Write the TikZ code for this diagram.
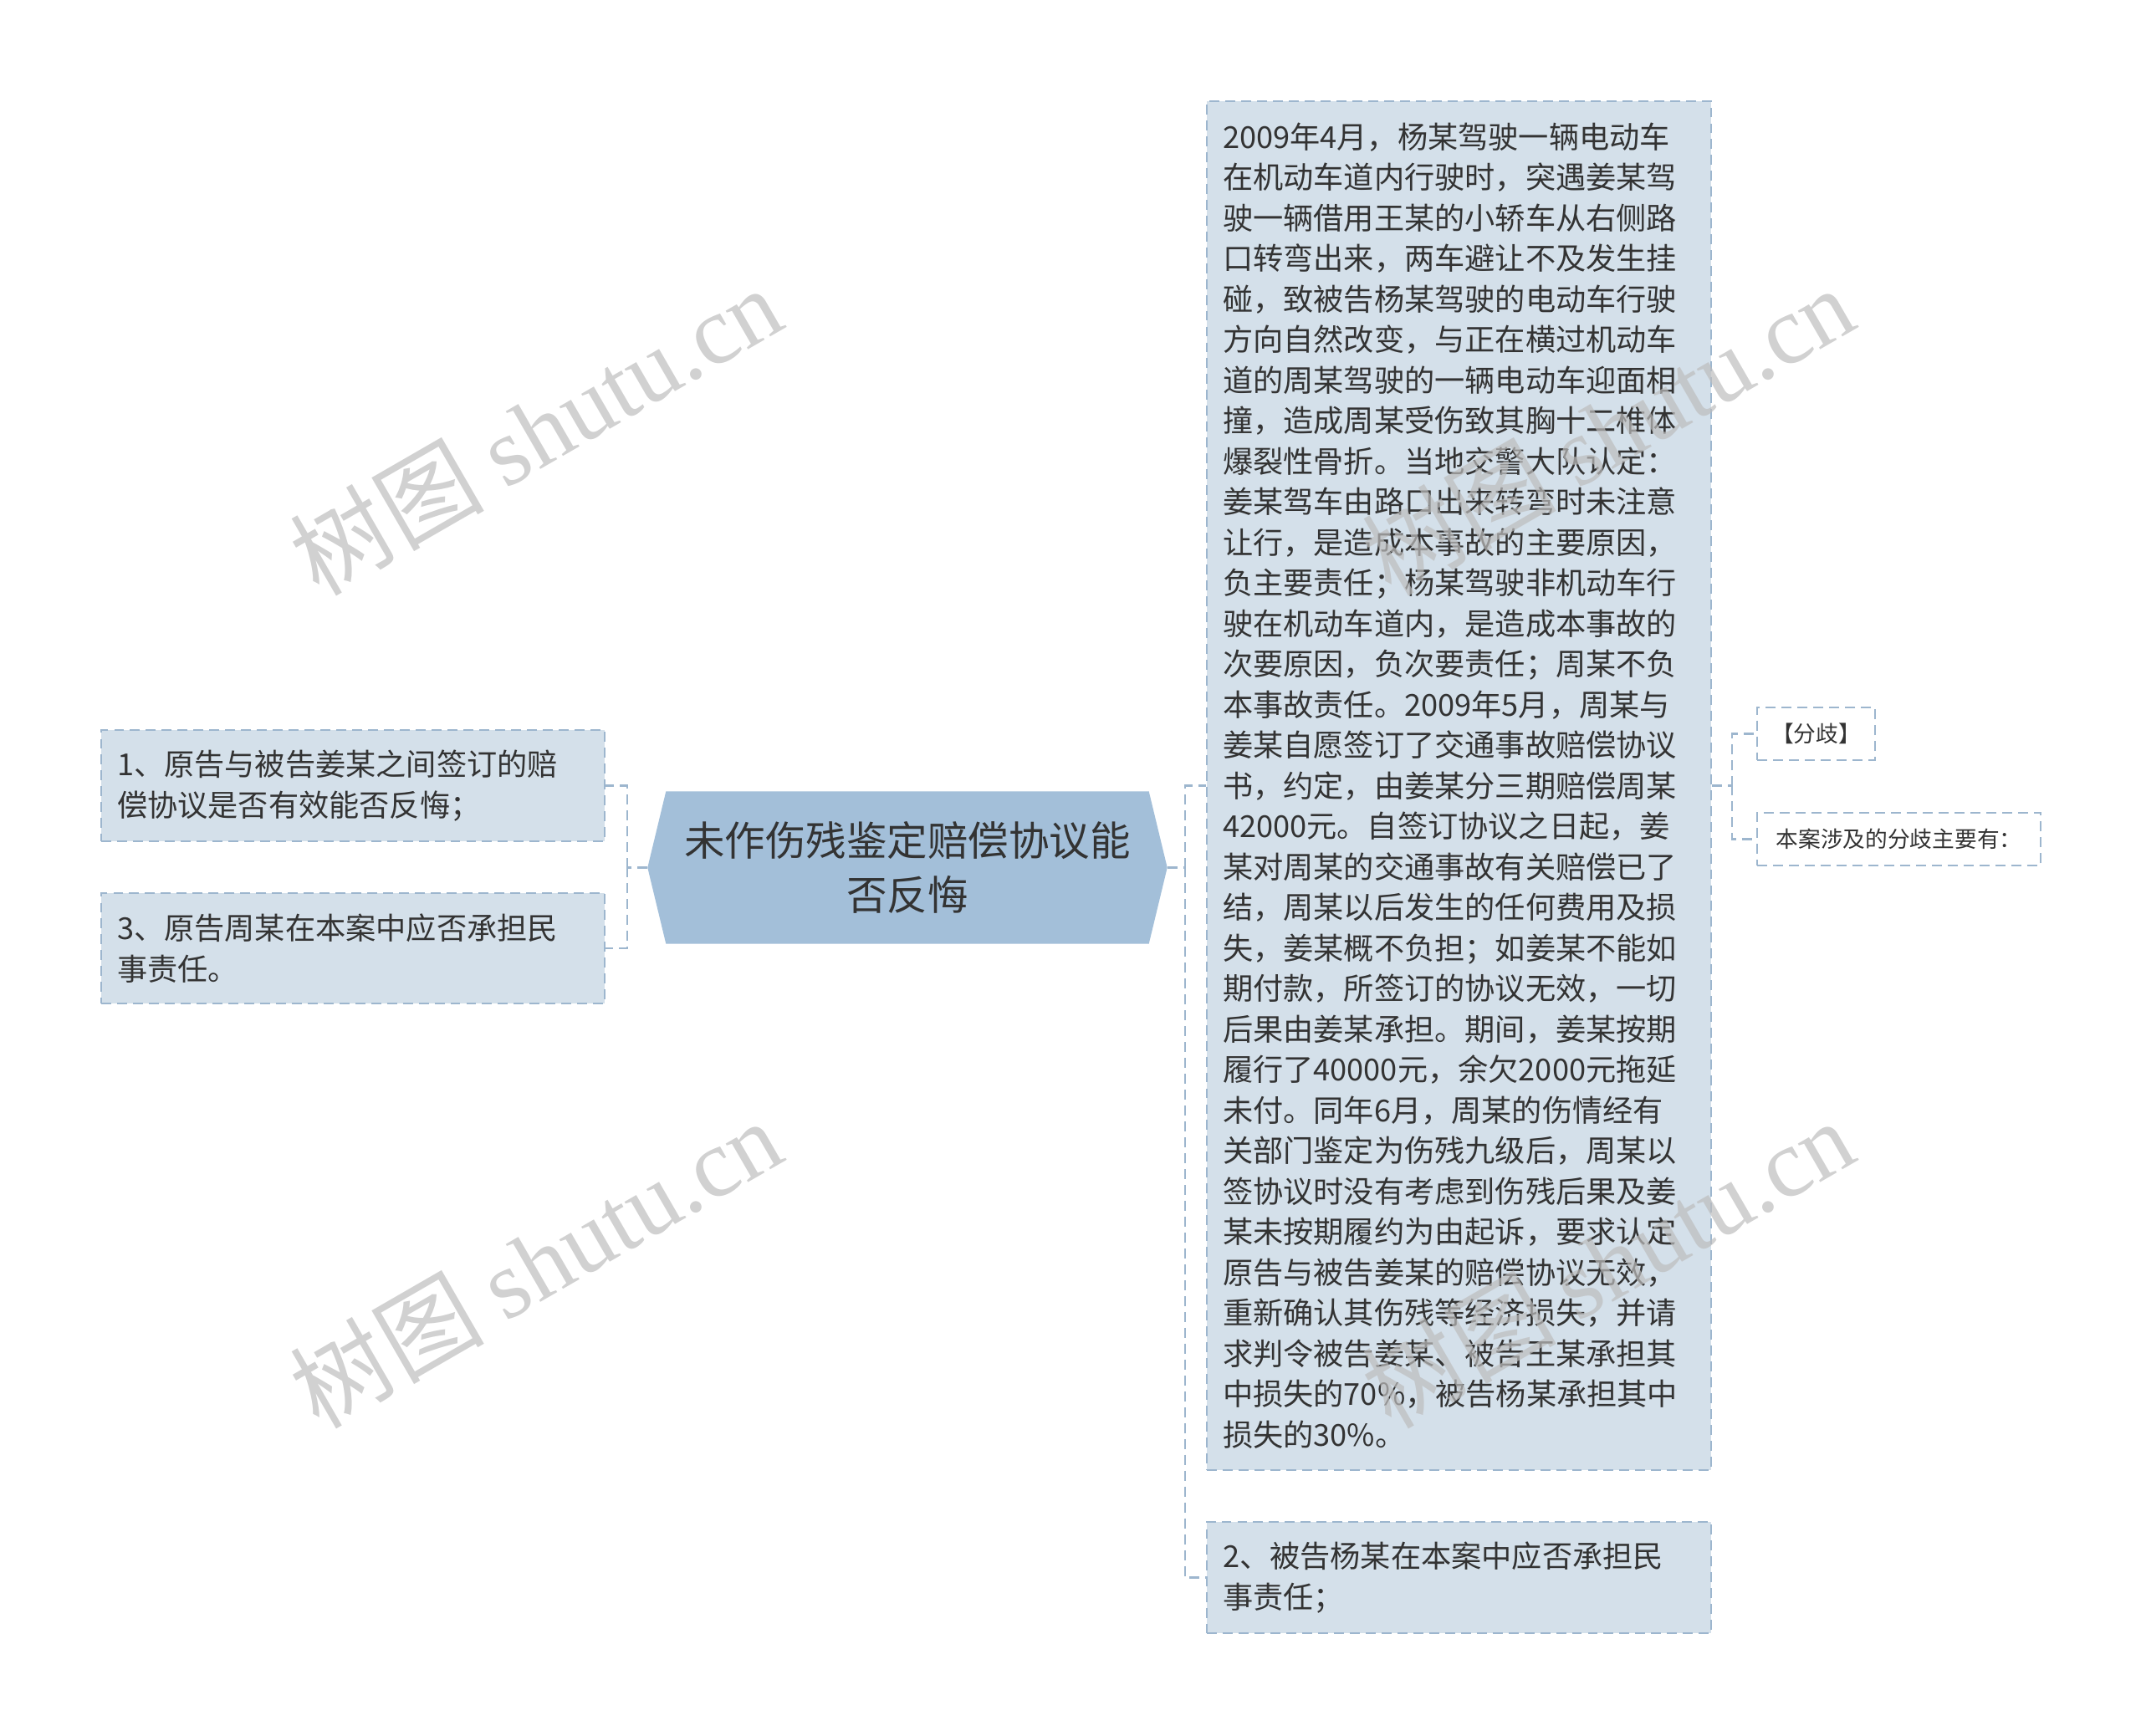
\documentclass[tikz,border=0pt]{standalone}
\usepackage{fontspec}
\setmainfont{Noto Sans CJK SC}
\newfontfamily\wmlatin{Liberation Serif}
\usetikzlibrary{positioning,calc,backgrounds}
\definecolor{hubblue}{HTML}{A3BFD9}
\definecolor{leafblue}{HTML}{D4E0EA}
\definecolor{edgeblue}{HTML}{9DB6CE}
\definecolor{inkgray}{HTML}{333333}
\definecolor{wmgray}{HTML}{BDBDBD}
\tikzset{
  linkline/.style={draw=edgeblue, line width=0.6pt, dash pattern=on 3.4pt off 2pt},
  hubnode/.style={minimum width=5.76cm, minimum height=1.81cm, inner sep=0pt, align=center, text=inkgray, font=\fontsize{13.8pt}{18.5pt}\selectfont},
  leafbox/.style={draw=edgeblue, line width=0.6pt, dash pattern=on 3.4pt off 2pt, fill=leafblue, text=inkgray, align=left, inner xsep=0.19cm, font=\fontsize{10.3pt}{13.8pt}\selectfont},
  tagbox/.style={draw=edgeblue, line width=0.6pt, dash pattern=on 3.4pt off 2pt, fill=white, text=inkgray, minimum height=0.63cm, inner xsep=0.17cm, font=\fontsize{7.6pt}{9pt}\selectfont},
  wmark/.style={text=wmgray, opacity=0.7, rotate=30, font=\fontsize{33pt}{36pt}\selectfont}
}
\begin{document}
\begin{tikzpicture}
\useasboundingbox (0,0) rectangle (25.6,-20.75);
% centre topic
\node[hubnode] (hub) at (10.85,-10.375) {未作伤残鉴定赔偿协议能\\否反悔};
\coordinate (hubL) at ($(hub.west)+(-0.22,0)$);
\coordinate (hubR) at ($(hub.east)+(0.22,0)$);
\begin{scope}[on background layer]
  \fill[hubblue] (hub.north west) -- (hub.north east) -- (hubR) -- (hub.south east) -- (hub.south west) -- (hubL) -- cycle;
\end{scope}
% left side
\node[leafbox, minimum width=6.02cm, minimum height=1.33cm, text width=5.64cm] (q1) at (4.22,-9.395) {1、原告与被告姜某之间签订的赔\\偿协议是否有效能否反悔；};
\node[leafbox, minimum width=6.02cm, minimum height=1.32cm, text width=5.64cm] (q3) at (4.22,-11.34) {3、原告周某在本案中应否承担民\\事责任。};
% right side
\node[leafbox, minimum width=6.03cm, minimum height=16.37cm, text width=5.65cm] (story) at (17.445,-9.395) {2009年4月，杨某驾驶一辆电动车\\
在机动车道内行驶时，突遇姜某驾\\
驶一辆借用王某的小轿车从右侧路\\
口转弯出来，两车避让不及发生挂\\
碰，致被告杨某驾驶的电动车行驶\\
方向自然改变，与正在横过机动车\\
道的周某驾驶的一辆电动车迎面相\\
撞，造成周某受伤致其胸十二椎体\\
爆裂性骨折。当地交警大队认定：\\
姜某驾车由路口出来转弯时未注意\\
让行，是造成本事故的主要原因，\\
负主要责任；杨某驾驶非机动车行\\
驶在机动车道内，是造成本事故的\\
次要原因，负次要责任；周某不负\\
本事故责任。2009年5月，周某与\\
姜某自愿签订了交通事故赔偿协议\\
书，约定，由姜某分三期赔偿周某\\
42000元。自签订协议之日起，姜\\
某对周某的交通事故有关赔偿已了\\
结，周某以后发生的任何费用及损\\
失，姜某概不负担；如姜某不能如\\
期付款，所签订的协议无效，一切\\
后果由姜某承担。期间，姜某按期\\
履行了40000元，余欠2000元拖延\\
未付。同年6月，周某的伤情经有\\
关部门鉴定为伤残九级后，周某以\\
签协议时没有考虑到伤残后果及姜\\
某未按期履约为由起诉，要求认定\\
原告与被告姜某的赔偿协议无效，\\
重新确认其伤残等经济损失，并请\\
求判令被告姜某、被告王某承担其\\
中损失的70\%，被告杨某承担其中\\
损失的30\%。};
\node[leafbox, minimum width=6.03cm, minimum height=1.33cm, text width=5.65cm] (q2) at (17.445,-18.865) {2、被告杨某在本案中应否承担民\\事责任；};
\node[tagbox, anchor=west, minimum width=1.41cm] (tag) at (21.00,-8.775) {【分歧】};
\node[tagbox, anchor=west, minimum width=3.39cm] (note) at (21.00,-10.035) {本案涉及的分歧主要有：};
% connectors
\coordinate (lfork) at (7.50,-10.375);
\coordinate (rfork) at (14.17,-10.375);
\coordinate (sfork) at (20.71,-9.395);
\draw[linkline] (hubL) -- (lfork);
\draw[linkline] (lfork) |- (q1.east);
\draw[linkline] (lfork) |- (q3.east);
\draw[linkline] (hubR) -- (rfork);
\draw[linkline] (rfork) |- (story.west);
\draw[linkline] (rfork) |- (q2.west);
\draw[linkline] (story.east) -- (sfork);
\draw[linkline] (sfork) |- (tag.west);
\draw[linkline] (sfork) |- (note.west);
% watermarks
\node[wmark] (wm1) at (6.40,-5.14) {树图 {\wmlatin shutu.cn}};
\node[wmark] (wm2) at (6.40,-15.10) {树图 {\wmlatin shutu.cn}};
\node[wmark] (wm3) at (19.22,-5.14) {树图 {\wmlatin shutu.cn}};
\node[wmark] (wm4) at (19.22,-15.10) {树图 {\wmlatin shutu.cn}};
\end{tikzpicture}
\end{document}
